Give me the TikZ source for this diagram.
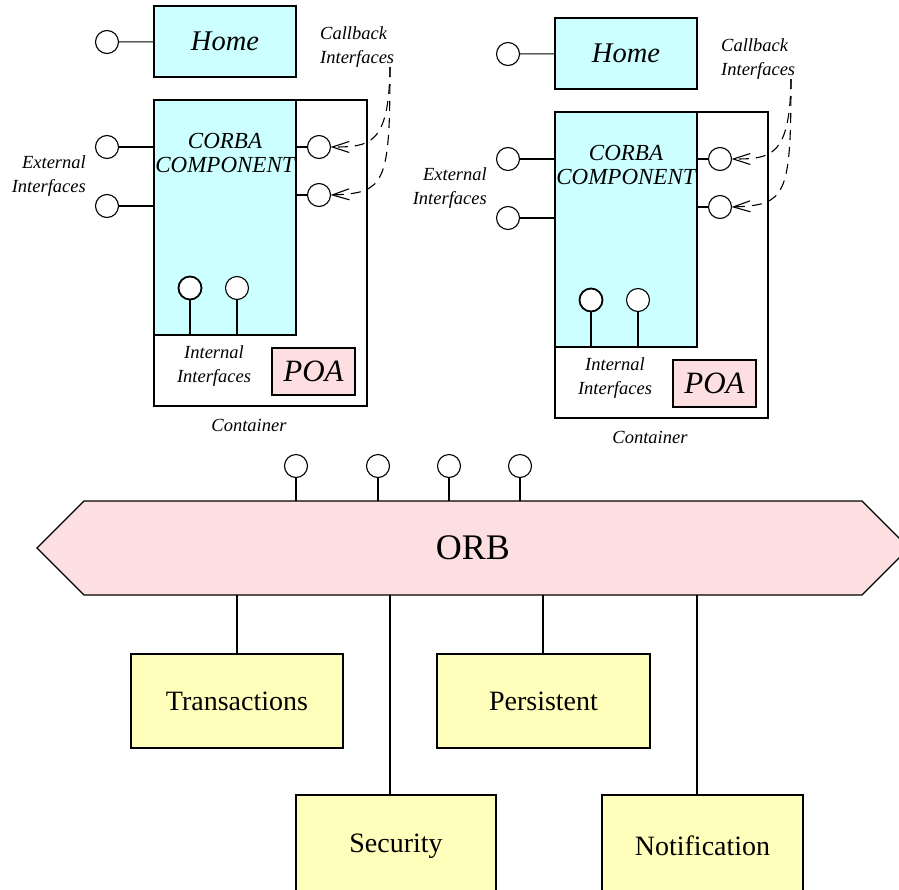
\documentclass[tikz,border=0pt]{standalone}
\usepackage{fontspec}
\setmainfont{Liberation Serif}
\usetikzlibrary{arrows.meta}
\definecolor{cyanfill}{RGB}{204,255,255}
\definecolor{pinkfill}{RGB}{253,222,225}
\definecolor{yellowfill}{RGB}{255,255,187}
\tikzset{
  box/.style={draw, rectangle, line width=1.2pt, inner sep=0pt, outer sep=0pt},
  lolli/.style={draw, circle, line width=1.1pt, minimum size=23pt, inner sep=0pt, outer sep=0pt, fill=white},
  wire/.style={line width=1.1pt},
  lbl/.style={font=\fontsize{18.5}{23.5}\selectfont\itshape, inner sep=0pt},
  svc/.style={box, fill=yellowfill, font=\fontsize{28}{30}\selectfont},
  callback/.style={wire, dash pattern=on 10pt off 7pt, -{Straight Barb[length=17pt,width=11pt]}},
}
\newcommand\compgroup{%
  \node[box, minimum width=213pt, minimum height=306pt] (cont) at (260.5,253) {};
  \node[box, fill=cyanfill, minimum width=142pt, minimum height=235pt] (comp) at (225,217.5) {};
  \node[font=\fontsize{23}{24}\selectfont\itshape, align=center, inner sep=0pt] (ctext) at (225,153) {CORBA\\COMPONENT};
  \node[box, fill=cyanfill, minimum width=142pt, minimum height=71pt, font=\fontsize{28.5}{30}\selectfont\itshape] (home) at (225,41.5) {Home};
  \node[lolli] (hl) at (107,42) {};
  \draw[wire] (hl) -- (home);
  \node[lolli] (e1) at (107,147) {};
  \node[lolli] (e2) at (107,206) {};
  \draw[wire] (e1) -- (e1 -| comp.west);
  \draw[wire] (e2) -- (e2 -| comp.west);
  \node[lolli] (r1) at (319,147) {};
  \node[lolli] (r2) at (319,195) {};
  \draw[wire] (r1) -- (r1 -| comp.east);
  \draw[wire] (r2) -- (r2 -| comp.east);
  \node[lolli, line width=1.8pt] (i1) at (190,288) {};
  \node[lolli] (i2) at (237,288) {};
  \draw[line width=2pt] (i1) -- (i1 |- comp.south);
  \draw[wire] (i2) -- (i2 |- comp.south);
  \node[box, fill=pinkfill, minimum width=83pt, minimum height=47pt, font=\fontsize{31}{32}\selectfont\itshape] (poa) at (313.5,371.5) {POA};
  \node[lbl, align=center] (itext) at (214,366) {Internal\\Interfaces};
  \node[lbl] (cotext) at (249,425) {Container};
  \node[lbl, align=right, anchor=east] (etext) at (86,176) {External\\Interfaces};
  \node[lbl, align=left, anchor=west] (cbtext) at (320,47) {Callback\\Interfaces};
  \coordinate (cb) at (390,67);
  \draw[callback] (cb) .. controls (389,145) and (370,147) .. (r1.east);
  \draw[callback] (cb) .. controls (390,185) and (385,193) .. (r2.east);
}
\begin{document}
\begin{tikzpicture}[x=1pt, y=-1pt]
  \useasboundingbox (0,0) rectangle (899,889);
  \clip (0,0) rectangle (899,889);
  \compgroup
  \begin{scope}[shift={(401,12)}, name prefix=R-]
    \compgroup
  \end{scope}
  % ORB
  \coordinate (orbL) at (37,548);
  \coordinate (orbR) at (909,548);
  \draw[line width=1.2pt, fill=pinkfill] (orbL) -- (84,501) -- (862,501) -- (orbR) -- (862,595) -- (84,595) -- cycle;
  \node[font=\fontsize{36}{40}\selectfont, inner sep=0pt] (orb) at (473,548) {ORB};
  \coordinate (orbT) at (473,501);
  \coordinate (orbB) at (473,595);
  \foreach \n/\x in {o1/296, o2/378, o3/449, o4/520} {
    \node[lolli] (\n) at (\x,466) {};
    \draw[wire] (\n) -- (\n |- orbT);
  }
  % services
  \node[svc, minimum width=212pt, minimum height=94pt] (tr) at (237,701) {Transactions};
  \node[svc, minimum width=213pt, minimum height=94pt] (pe) at (543.5,701) {Persistent};
  \node[svc, minimum width=200pt, minimum height=102pt] (se) at (396,846) {Security};
  \node[svc, minimum width=201pt, minimum height=102pt] (no) at (702.5,846) {Notification};
  \coordinate (b1) at (237,595);
  \coordinate (b2) at (390,595);
  \coordinate (b3) at (543,595);
  \coordinate (b4) at (697,595);
  \draw[wire] (b1) -- (b1 |- tr.north);
  \draw[wire] (b2) -- (b2 |- se.north);
  \draw[wire] (b3) -- (b3 |- pe.north);
  \draw[wire] (b4) -- (b4 |- no.north);
\end{tikzpicture}
\end{document}
